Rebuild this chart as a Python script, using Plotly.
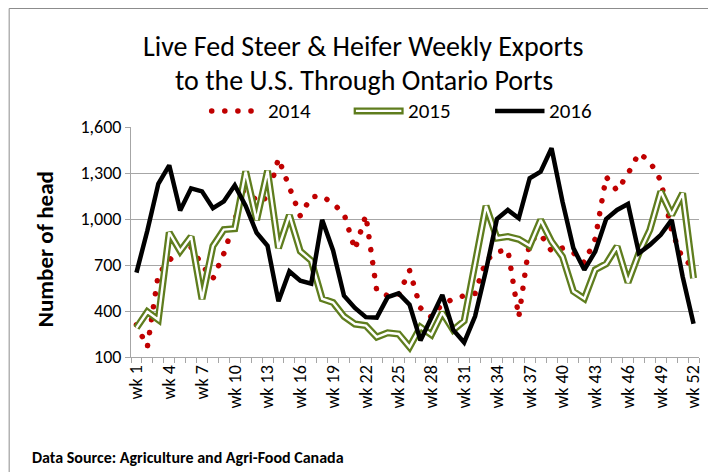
import plotly.graph_objects as go

weeks = list(range(1, 53))
tick_weeks = [1, 4, 7, 10, 13, 16, 19, 22, 25, 28, 31, 34, 37, 40, 43, 46, 49, 52]
tick_labels = ["wk 1", "wk 4", "wk 7", "wk 10", "wk 13", "wk 16", "wk 19", "wk 22", "wk 25",
               "wk 28", "wk 31", "wk 34", "wk 37", "wk 40", "wk 43", "wk 46", "wk 49", "wk 52"]

y2014 = [310, 165, 640, 730, 815, 815, 700, 610, 775, 990, 1235, 1110, 1140, 1395, 1210, 1020,
         1145, 1150, 1100, 1035, 800, 1025, 530, 500, 505, 665, 420, 360, 445, 478, 500, 515,
         730, 785, 800, 360, 855, 900, 790, 810, 780, 715, 870, 1275, 1185, 1295, 1430, 1375,
         1250, 925, 740, 690]
y2015 = [290, 395, 343, 912, 790, 886, 478, 823, 931, 937, 1310, 994, 1315, 810, 1025, 790,
         728, 480, 455, 365, 315, 305, 230, 258, 250, 165, 295, 245, 390, 276, 335, 720,
         1085, 875, 886, 868, 825, 994, 853, 755, 528, 480, 669, 708, 821, 586, 777, 929,
         1179, 1027, 1168, 614]
y2016 = [650, 925, 1230, 1350, 1055, 1200, 1180, 1070, 1115, 1220, 1085, 910, 825, 463, 658, 597,
         578, 995, 795, 500, 420, 360, 357, 490, 515, 442, 208, 350, 505, 277, 195, 365,
         665, 1000, 1059, 1005, 1266, 1309, 1461, 1114, 810, 669, 788, 999, 1059, 1098, 777, 831,
         897, 994, 625, 317]

RED = "#C00000"
GREEN = "#5F7D1E"
GRID = "#A6A6A6"
FONT = "Carlito, Lato, sans-serif"
DOT = "5.5px,8px"

fig = go.Figure()
fig.add_trace(go.Scatter(x=weeks, y=y2014, mode="lines", name="2014",
                         line=dict(color=RED, width=5.5, dash=DOT), showlegend=False))
fig.add_trace(go.Scatter(x=weeks, y=y2015, mode="lines", name="2015",
                         line=dict(color=GREEN, width=7), showlegend=False))
fig.add_trace(go.Scatter(x=weeks, y=y2015, mode="lines", name="2015 inner",
                         line=dict(color="white", width=2.4), showlegend=False, hoverinfo="skip"))
fig.add_trace(go.Scatter(x=weeks, y=y2016, mode="lines", name="2016",
                         line=dict(color="black", width=4.5), showlegend=False))

# manual legend (paper coords relative to plot area)
ly = 1.07
legend_items = [
    (0.142, 0.229, 0.238, "2014", dict(color=RED, width=5.5, dash=DOT)),
    (0.392, 0.480, 0.485, "2015", dict(color=GREEN, width=7)),
    (0.641, 0.728, 0.733, "2016", dict(color="black", width=4.5)),
]
for x0, x1, xt, label, ln in legend_items:
    fig.add_shape(type="line", xref="paper", yref="paper", x0=x0, x1=x1, y0=ly, y1=ly, line=ln)
    if label == "2015":
        fig.add_shape(type="line", xref="paper", yref="paper", x0=x0 + 0.004, x1=x1 - 0.004,
                      y0=ly, y1=ly, line=dict(color="white", width=2.4))
    fig.add_annotation(x=xt, y=ly, xref="paper", yref="paper", text=label, showarrow=False,
                       xanchor="left", yanchor="middle", font=dict(family=FONT, size=21, color="black"))

# chart border (top and left edges visible)
fig.add_shape(type="rect", xref="paper", yref="paper", x0=-0.2145, x1=1.06, y0=-0.6, y1=1.5152,
              line=dict(color="#8C8C8C", width=1), layer="below")

fig.add_annotation(x=0.41, y=1.352, xref="paper", yref="paper",
                   text="Live Fed Steer & Heifer Weekly Exports", showarrow=False,
                   xanchor="center", yanchor="middle", font=dict(family=FONT, size=28, color="black"))
fig.add_annotation(x=0.41, y=1.204, xref="paper", yref="paper",
                   text="to the U.S. Through Ontario Ports", showarrow=False,
                   xanchor="center", yanchor="middle", font=dict(family=FONT, size=28, color="black"))
fig.add_annotation(x=-0.151, y=0.47, xref="paper", yref="paper", text="<b>Number of head</b>",
                   textangle=-90, showarrow=False, xanchor="center", yanchor="middle",
                   font=dict(family=FONT, size=23, color="black"))
fig.add_annotation(x=-0.177, y=-0.437, xref="paper", yref="paper",
                   text="<b>Data Source: Agriculture and Agri-Food Canada</b>", showarrow=False,
                   xanchor="left", yanchor="middle", font=dict(family=FONT, size=16, color="black"))

fig.update_layout(
    width=708, height=464,
    margin=dict(l=123, r=14, t=119, b=115),
    paper_bgcolor="white", plot_bgcolor="white",
    font=dict(family=FONT, size=16, color="black"),
    showlegend=False,
)
fig.update_xaxes(range=[0.5, 52.5], tickmode="array", tickvals=tick_weeks, ticktext=tick_labels,
                 tickangle=-90, ticks="", showgrid=False, showline=True, linecolor=GRID, linewidth=1,
                 zeroline=False, tickfont=dict(family=FONT, size=18, color="black"),
                 minor=dict(ticks="outside", tick0=0.5, dtick=1, ticklen=5, tickcolor=GRID,
                            tickwidth=1, showgrid=False))
fig.update_yaxes(range=[100, 1600], tickmode="linear", tick0=100, dtick=300, tickformat=",d",
                 showgrid=True, gridcolor=GRID, gridwidth=1, showline=True, linecolor=GRID,
                 linewidth=1, ticks="outside", ticklen=5, tickcolor=GRID, zeroline=False,
                 tickfont=dict(family=FONT, size=18, color="black"))

post_script = """
var gd = document.getElementById('{plot_id}');
function fixDots(){
  gd.querySelectorAll('path').forEach(function(p){
    if (p.style.stroke === 'rgb(192, 0, 0)') {
      p.style.strokeLinecap = 'round';
      p.style.strokeDasharray = '0.1px, 13px';
    }
  });
}
fixDots();
setTimeout(fixDots, 0);
setTimeout(fixDots, 300);
if (gd.on) { gd.on('plotly_afterplot', fixDots); }
"""

fig.write_html("out.html", post_script=post_script)
